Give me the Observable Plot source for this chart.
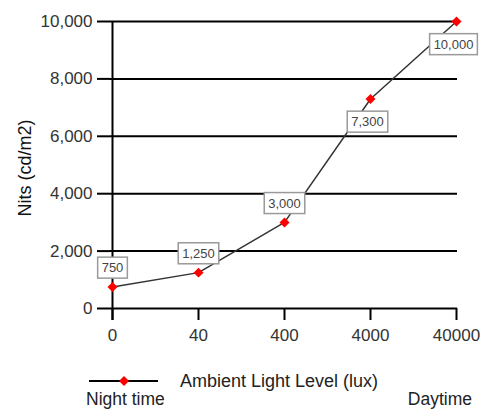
<!DOCTYPE html>
<html>
<head>
<meta charset="utf-8">
<script src="https://cdn.jsdelivr.net/npm/d3@7"></script>
<script src="https://cdn.jsdelivr.net/npm/@observablehq/plot@0.6"></script>
<style>
  html, body { margin: 0; padding: 0; background: #fff; }
  #wrap { position: relative; width: 483px; height: 410px; font-family: "Liberation Sans", Arial, sans-serif; color: #222; }
  #wrap svg.plot { display: block; }
  .lg { position: absolute; font-size: 17.5px; line-height: 18px; white-space: nowrap; }
</style>
</head>
<body>
<div id="wrap"></div>
<script>
const lux = ["0", "40", "400", "4000", "40000"];
const nits = [750, 1250, 3000, 7300, 10000];
const valueLabels = ["750", "1,250", "3,000", "7,300", "10,000"];
const yTicks = [0, 2000, 4000, 6000, 8000, 10000];
const yTitle = "Nits (cd/m2)";
const seriesName = "Ambient Light Level (lux)";
const leftNote = "Night time";
const rightNote = "Daytime";

const data = lux.map((l, i) => ({lux: l, nits: nits[i], label: valueLabels[i], i}));

const plot = Plot.plot({
  width: 483,
  height: 355,
  marginLeft: 110,
  marginRight: 26,
  marginTop: 21,
  marginBottom: 47,
  style: {fontFamily: "Liberation Sans, Arial, sans-serif", fontSize: "17px", color: "#222", background: "#fff"},
  x: {type: "point", domain: lux, padding: 0},
  y: {domain: [0, 10000]},
  marks: [
    Plot.ruleY(yTicks, {stroke: "#000", strokeWidth: 2}),
    Plot.ruleX([lux[0]], {stroke: "#000", strokeWidth: 2, insetBottom: -12}),
    Plot.axisY({ticks: yTicks, tickSize: 13, tickPadding: 5, tickFormat: d3.format(","), label: null, strokeWidth: 2, stroke: "#000", fill: "#333"}),
    Plot.axisX({tickSize: 12, tickPadding: 8, label: null, strokeWidth: 2, stroke: "#000", fill: "#333"}),
    Plot.text([yTitle], {text: d => d, frameAnchor: "left", textAnchor: "middle", rotate: -90, dx: -85, dy: 3, fontSize: 18, fill: "#111"}),
    Plot.line(data, {x: "lux", y: "nits", stroke: "#333", strokeWidth: 1.5}),
    Plot.dot(data, {x: "lux", y: "nits", symbol: "diamond2", r: 4.5, fill: "red", stroke: "none"}),
    Plot.text(data.filter(d => d.i < 3), {x: "lux", y: "nits", text: "label", dy: -19, fontSize: 13, fill: "#444"}),
    Plot.text(data.filter(d => d.i >= 3), {x: "lux", y: "nits", text: "label", dy: 23, dx: -3, fontSize: 13, fill: "#444"})
  ]
});
plot.classList.add("plot");
const wrap = document.getElementById("wrap");
wrap.appendChild(plot);

// white boxes behind the value labels
plot.querySelectorAll('g[aria-label="text"] text').forEach(t => {
  if (t.textContent === yTitle) return;
  const b = t.getBBox();
  const r = document.createElementNS("http://www.w3.org/2000/svg", "rect");
  r.setAttribute("x", b.x - 4);
  r.setAttribute("y", b.y - 3);
  r.setAttribute("width", b.width + 8);
  r.setAttribute("height", b.height + 6);
  r.setAttribute("fill", "#fff");
  r.setAttribute("stroke", "#9a9a9a");
  r.setAttribute("stroke-width", 1.5);
  if (t.getAttribute("transform")) r.setAttribute("transform", t.getAttribute("transform"));
  t.parentNode.insertBefore(r, t);
});

// legend below the chart
const lg = document.createElement("div");
lg.innerHTML = `
  <svg style="position:absolute;left:89px;top:375px" width="70" height="12">
    <line x1="0" x2="69" y1="6" y2="6" stroke="#000" stroke-width="2"/>
    <path d="M35,1 L40,6 L35,11 L30,6 Z" fill="red"/>
  </svg>
  <div class="lg" style="left:180px;top:372px;font-size:18px">${seriesName}</div>
  <div class="lg" style="left:86px;top:390px">${leftNote}</div>
  <div class="lg" style="right:11px;top:390px">${rightNote}</div>`;
wrap.appendChild(lg);
</script>
</body>
</html>
